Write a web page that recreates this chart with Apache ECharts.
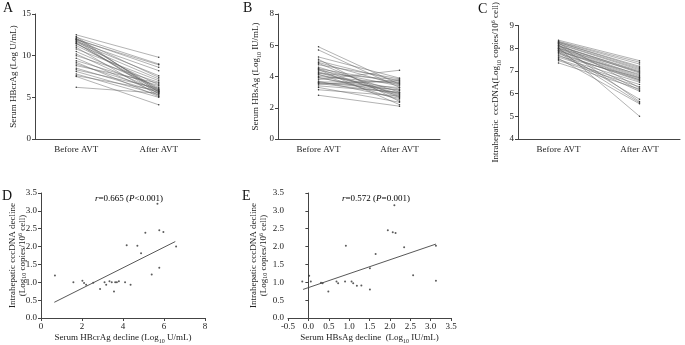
<!DOCTYPE html>
<html>
<head>
<meta charset="utf-8">
<script src="https://cdn.jsdelivr.net/npm/echarts@6/dist/echarts.min.js"></script>
<style>
html, body { margin: 0; padding: 0; background: #fff; }
#main { width: 685px; height: 345px; }
</style>
</head>
<body>
<div id="main"></div>
<script>
// paired values, before / after AVT
var groups = ['Before AVT', 'After AVT'];
var hbcrBefore = [12.5, 12.3, 12.2, 12.1, 12.0, 11.9, 11.8, 11.7, 11.6, 11.5, 11.4, 11.2, 11.0, 10.8, 10.5, 10.2, 10.0, 9.7, 9.4, 9.2, 9.0, 8.8, 8.5, 8.3, 8.1, 7.8, 7.6, 7.5, 6.2, 11.9, 11.5, 12.0];
var hbcrAfter  = [9.8, 5.6, 9.0, 5.8, 8.6, 6.0, 5.4, 8.2, 7.6, 5.9, 7.2, 6.5, 5.2, 7.0, 6.2, 5.7, 6.8, 5.5, 6.4, 5.1, 5.9, 6.7, 5.6, 6.1, 5.3, 5.0, 5.8, 4.1, 5.5, 8.9, 5.7, 7.4];
var hbsBefore = [5.9, 5.7, 5.25, 5.1, 5.0, 4.85, 4.75, 4.6, 4.5, 4.45, 4.4, 4.3, 4.2, 4.15, 4.1, 4.0, 3.95, 3.9, 3.8, 3.7, 3.65, 3.6, 3.55, 3.5, 3.4, 3.3, 3.15, 2.8, 4.5, 4.9, 3.6, 4.25];
var hbsAfter  = [3.5, 3.3, 3.9, 2.4, 3.7, 2.7, 3.85, 3.0, 3.6, 2.2, 3.4, 2.9, 3.8, 2.5, 3.2, 3.55, 2.8, 3.1, 4.4, 2.6, 3.65, 3.3, 2.95, 3.75, 3.0, 2.35, 2.75, 2.1, 2.65, 3.45, 3.15, 2.85];
var cccBefore = [8.35, 8.3, 8.28, 8.25, 8.22, 8.2, 8.18, 8.15, 8.12, 8.1, 8.08, 8.05, 8.02, 8.0, 7.97, 7.95, 7.92, 7.9, 7.85, 7.82, 7.8, 7.75, 7.7, 7.65, 7.6, 7.55, 7.5, 7.45, 7.35, 8.25, 8.0, 7.88];
var cccAfter  = [7.45, 7.38, 7.3, 7.2, 6.25, 7.1, 7.05, 5.65, 6.95, 6.9, 7.0, 6.8, 5.0, 6.75, 6.7, 6.15, 6.65, 6.6, 6.85, 5.6, 6.55, 6.6, 6.1, 6.7, 6.5, 5.55, 6.4, 6.3, 6.2, 7.15, 6.95, 5.75];

// correlation D: HBcrAg decline vs cccDNA decline
var dX = [0.68, 1.58, 2.02, 2.1, 2.2, 2.55, 2.88, 3.1, 3.18, 3.34, 3.45, 3.62, 3.7, 3.8, 3.56, 4.1, 4.18, 4.37, 4.7, 4.88, 5.09, 5.4, 5.68, 5.77, 5.77, 5.97, 6.59];
var dY = [1.19, 1.0, 1.04, 0.98, 0.93, 0.99, 0.81, 1.0, 0.93, 1.03, 1.0, 1.0, 1.0, 1.03, 0.74, 1.0, 2.04, 0.93, 2.02, 1.81, 2.39, 1.22, 3.2, 1.41, 2.46, 2.41, 2.0];
var dFitX = [0.65, 6.55];
var dFitY = [0.44, 2.14];
// correlation E: HBsAg decline vs cccDNA decline
var eX = [-0.15, 0.02, 0.06, 0.31, 0.35, 0.49, 0.69, 0.73, 0.92, 0.9, 1.06, 1.1, 1.19, 1.3, 1.51, 1.51, 1.65, 1.95, 2.07, 2.14, 2.11, 2.35, 2.57, 3.13, 3.13];
var eY = [1.02, 1.18, 1.02, 0.99, 0.97, 0.74, 1.02, 0.97, 2.02, 1.02, 1.02, 0.97, 0.9, 0.91, 0.8, 1.39, 1.79, 2.46, 2.4, 2.38, 3.16, 1.98, 1.2, 2.02, 1.04];
var eFitX = [-0.13, 3.13];
var eFitY = [0.8, 2.07];

var FONT = 'Liberation Serif';
var INK = '#222';
var AXIS = '#444';

var rich = {
    n: {fontFamily: FONT, fontSize: 9, color: INK, lineHeight: 12},
    sb: {fontFamily: FONT, fontSize: 6, color: INK, lineHeight: 7, verticalAlign: 'bottom'},
    sp: {fontFamily: FONT, fontSize: 6, color: INK, lineHeight: 7, verticalAlign: 'top'},
    i: {fontFamily: FONT, fontSize: 9, color: INK, fontStyle: 'italic', lineHeight: 12}
};
// tighter lines for the two-line names
var rich2 = {
    n: {fontFamily: FONT, fontSize: 9, color: INK, lineHeight: 9.5},
    sb: {fontFamily: FONT, fontSize: 6, color: INK, lineHeight: 5, verticalAlign: 'bottom'},
    sp: {fontFamily: FONT, fontSize: 6, color: INK, lineHeight: 5, verticalAlign: 'top'}
};

var chart = echarts.init(document.getElementById('main'));

function catX(idx) {
    return {
        type: 'category', gridIndex: idx, data: groups, boundaryGap: true,
        axisLine: {lineStyle: {color: AXIS, width: 1}},
        axisTick: {alignWithLabel: true, length: 3, lineStyle: {color: AXIS}},
        axisLabel: {fontFamily: FONT, fontSize: 9, color: INK, margin: 6}
    };
}
function valAxis(idx, min, max, step, name, gap, dec, loc, rt) {
    return {
        type: 'value', gridIndex: idx, min: min, max: max, interval: step,
        name: name, nameLocation: 'middle', nameGap: gap, nameRotate: loc === 'y' ? 90 : 0,
        nameMoveOverlap: false,
        nameTextStyle: {rich: rt || rich},
        axisLine: {show: true, lineStyle: {color: AXIS, width: 1}},
        axisTick: {show: true, length: 3, lineStyle: {color: AXIS}},
        axisLabel: {fontFamily: FONT, fontSize: 9, color: INK, margin: 4,
            formatter: function(v){ return dec ? v.toFixed(1) : v; }},
        splitLine: {show: false}
    };
}
function pairSeries(before, after, idx) {
    var out = [];
    for (var i = 0; i < before.length; i++) {
        out.push({
            type: 'line', xAxisIndex: idx, yAxisIndex: idx,
            data: [before[i], after[i]],
            symbol: 'circle', symbolSize: 1.5, showSymbol: true,
            lineStyle: {width: 0.5, color: '#666'},
            itemStyle: {color: '#333'},
            silent: true, animation: false
        });
    }
    return out;
}
function zip(a, b) {
    var r = [];
    for (var i = 0; i < a.length; i++) r.push([a[i], b[i]]);
    return r;
}

var series = []
    .concat(pairSeries(hbcrBefore, hbcrAfter, 0))
    .concat(pairSeries(hbsBefore, hbsAfter, 1))
    .concat(pairSeries(cccBefore, cccAfter, 2));
series.push({type: 'scatter', xAxisIndex: 3, yAxisIndex: 3, data: zip(dX, dY),
    symbol: 'circle', symbolSize: 2, itemStyle: {color: '#333'}, silent: true, animation: false});
series.push({type: 'line', xAxisIndex: 3, yAxisIndex: 3, data: zip(dFitX, dFitY),
    showSymbol: false, lineStyle: {width: 0.9, color: '#444'}, silent: true, animation: false});
series.push({type: 'scatter', xAxisIndex: 4, yAxisIndex: 4, data: zip(eX, eY),
    symbol: 'circle', symbolSize: 2, itemStyle: {color: '#333'}, silent: true, animation: false});
series.push({type: 'line', xAxisIndex: 4, yAxisIndex: 4, data: zip(eFitX, eFitY),
    showSymbol: false, lineStyle: {width: 0.9, color: '#444'}, silent: true, animation: false});

function letter(t, x, y) {
    return {type: 'text', left: x, top: y, style: {text: t, fontFamily: FONT, fontSize: 14, fill: '#111'}};
}

var cccName = '{n|Intrahepatic cccDNA decline}\n{n|(Log}{sb|10}{n| copies/10}{sp|6}{n| cell)}';

var option = {
    backgroundColor: '#fff',
    animation: false,
    grid: [
        {left: 35, top: 14, width: 165, height: 125},
        {left: 278, top: 14, width: 162, height: 125},
        {left: 518, top: 14, width: 162, height: 125},
        {left: 41, top: 193, width: 164, height: 125},
        {left: 288, top: 193, width: 163, height: 125}
    ],
    xAxis: [
        catX(0), catX(1), catX(2),
        valAxis(3, 0, 8, 2, '{n|Serum HBcrAg decline (Log}{sb|10}{n| U/mL)}', 14, false, 'x'),
        valAxis(4, -0.5, 3.5, 0.5, '{n|Serum HBsAg decline  (Log}{sb|10}{n| IU/mL)}', 14, true, 'x')
    ],
    yAxis: [
        valAxis(0, 0, 15, 5, '{n|Serum HBcrAg (Log U/mL)}', 15, false, 'y'),
        valAxis(1, 0, 8, 2, '{n|Serum HBsAg (Log}{sb|10}{n| IU/mL)}', 16, false, 'y'),
        valAxis(2, 4, 9, 1, '{n|Intrahepatic  cccDNA(Log}{sb|10}{n| copies/10}{sp|6}{n| cell)}', 16, false, 'y'),
        valAxis(3, 0, 3.5, 0.5, cccName, 14, true, 'y', rich2),
        valAxis(4, 0, 3.5, 0.5, cccName, 20, true, 'y', rich2)
    ],
    series: series,
    graphic: [
        letter('A', 3, 1), letter('B', 243, 1), letter('C', 478, 2),
        letter('D', 2, 189), letter('E', 242, 189),
        {type: 'text', left: 95, top: 194, style: {rich: rich, text: '{i|r}{n|=0.665 (}{i|P}{n|<0.001)}'}},
        {type: 'text', left: 342, top: 194, style: {rich: rich, text: '{i|r}{n|=0.572 (}{i|P}{n|=0.001)}'}}
    ]
};
chart.setOption(option);
</script>
</body>
</html>
